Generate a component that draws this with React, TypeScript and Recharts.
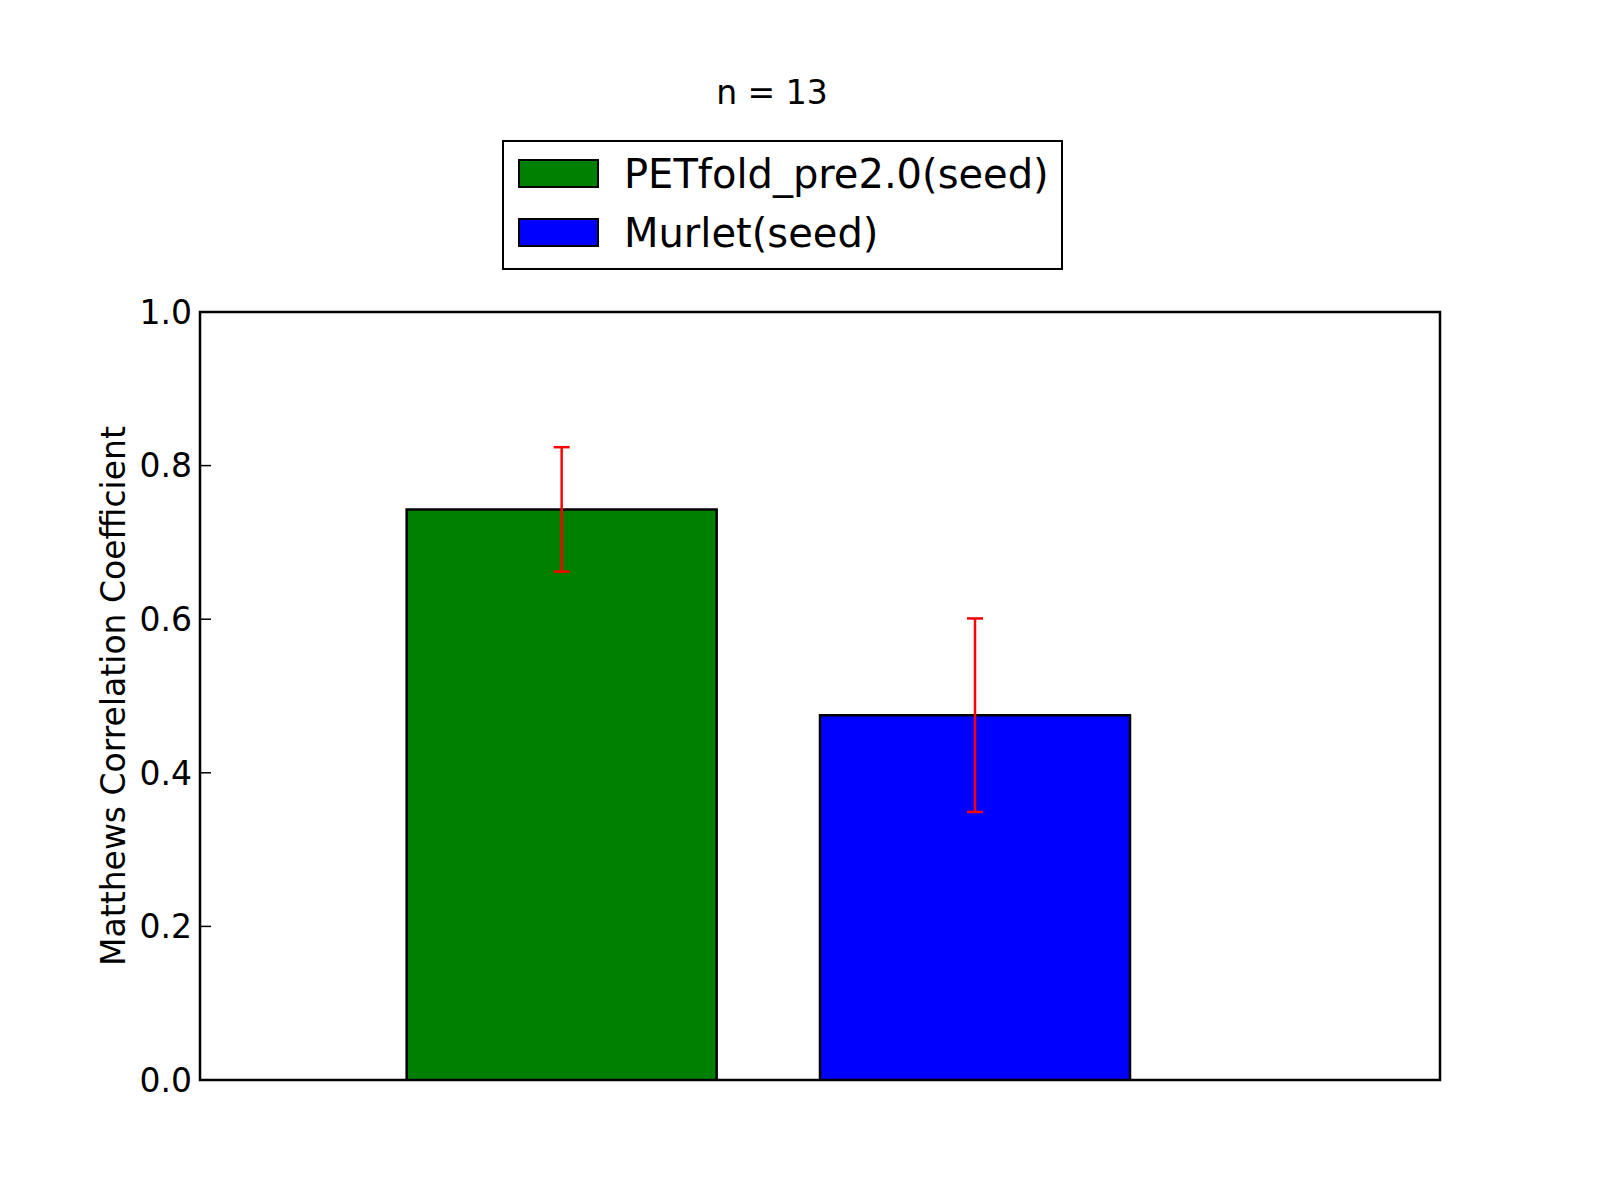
import React from 'react';
import { BarChart, Bar, XAxis, YAxis, ErrorBar, Cell, Legend, ReferenceArea } from 'recharts';

const FONT = '"DejaVu Sans", sans-serif';

const categories = ['PETfold_pre2.0(seed)', 'Murlet(seed)'];
const positions = [0.375, 1.375];
const meanValues = [0.743, 0.475];
const errorValues = [0.081, 0.126];
const barColors = ['#008000', '#0000ff'];
const yTicks = [0, 0.2, 0.4, 0.6, 0.8, 1.0];
const xDomain = [-0.5, 2.5];
const title = 'n = 13';
const yLabel = 'Matthews Correlation Coefficient';

const data = categories.map((name, i) => ({
  name,
  x: positions[i],
  mcc: meanValues[i],
  err: errorValues[i],
}));

const LegendBox = () => (
  <div
    style={{
      position: 'relative',
      boxSizing: 'border-box',
      width: 561,
      height: 130,
      border: '2.5px solid #000',
      background: '#fff',
      fontFamily: FONT,
      fontSize: 40,
      color: '#000',
    }}
  >
    {categories.map((c, i) => (
      <div
        key={c}
        style={{
          position: 'absolute',
          left: 14,
          top: 17 + i * 59,
          height: 29,
          display: 'flex',
          alignItems: 'center',
        }}
      >
        <div
          style={{
            width: 81,
            height: 29,
            boxSizing: 'border-box',
            background: barColors[i],
            border: '2.5px solid #000',
            flex: 'none',
          }}
        />
        <span style={{ marginLeft: 25, lineHeight: '40px', whiteSpace: 'nowrap' }}>{c}</span>
      </div>
    ))}
  </div>
);

const YLabel = (props: any) => {
  const vb = props.viewBox || { x: 100, y: 312, width: 100, height: 768 };
  const x = vb.x + 25;
  const y = vb.y + vb.height / 2;
  return (
    <text
      x={x}
      y={y}
      transform={`rotate(-90 ${x} ${y})`}
      textAnchor="middle"
      fontFamily={FONT}
      fontSize={33}
      fill="#000"
    >
      {yLabel}
    </text>
  );
};

export default function App() {
  return (
    <div style={{ position: 'absolute', left: 0, top: 0, width: 1600, height: 1200, background: '#fff' }}>
      <div
        style={{
          position: 'absolute',
          left: 0,
          top: 76,
          width: 1544,
          textAlign: 'center',
          fontFamily: FONT,
          fontSize: 33,
          lineHeight: '33px',
          color: '#000',
        }}
      >
        {title}
      </div>
      <BarChart
        width={1600}
        height={1200}
        data={data}
        margin={{ top: 312, right: 100, bottom: 120, left: 100 }}
        barCategoryGap="12.5%"
      >
        <XAxis type="number" dataKey="x" domain={xDomain} allowDataOverflow hide />
        <YAxis
          yAxisId="left"
          type="number"
          domain={[0, 1]}
          ticks={yTicks}
          allowDataOverflow
          interval={0}
          width={100}
          tickFormatter={(v: number) => v.toFixed(1)}
          axisLine={false}
          tickLine={{ stroke: '#000', strokeWidth: 1.5 }}
          tickSize={-11}
          tickMargin={19}
          tick={{ fill: '#000', fontSize: 33, fontFamily: FONT }}
          label={<YLabel />}
        />
        <YAxis
          yAxisId="right"
          orientation="right"
          type="number"
          domain={[0, 1]}
          ticks={yTicks}
          allowDataOverflow
          interval={0}
          width={60}
          axisLine={false}
          tickLine={{ stroke: '#000', strokeWidth: 1.5 }}
          tickSize={-11}
          tick={false}
        />
        <Legend
          layout="horizontal"
          verticalAlign="middle"
          align="center"
          content={<LegendBox />}
          wrapperStyle={{ left: 502, top: 140, width: 561, height: 130 }}
        />
        <Bar dataKey="mcc" yAxisId="left" stroke="#000" strokeWidth={2.5} isAnimationActive={false}>
          {data.map((d, i) => (
            <Cell key={d.name} fill={barColors[i]} />
          ))}
          <ErrorBar dataKey="err" width={8} stroke="#ff0000" strokeWidth={2.5} direction="y" />
        </Bar>
        <ReferenceArea
          yAxisId="left"
          x1={xDomain[0]}
          x2={xDomain[1]}
          y1={0}
          y2={1}
          fill="none"
          fillOpacity={0}
          stroke="#000"
          strokeWidth={2.5}
          ifOverflow="visible"
        />
      </BarChart>
    </div>
  );
}
